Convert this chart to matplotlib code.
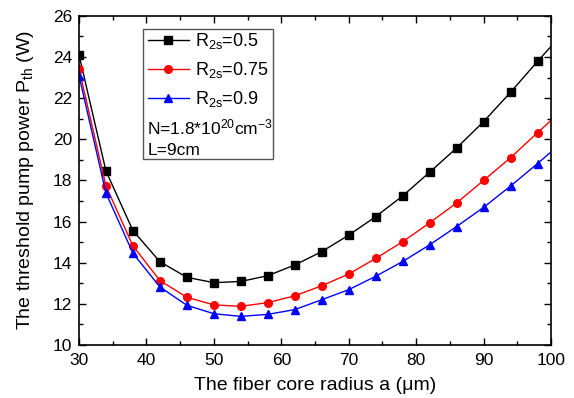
import numpy as np
import matplotlib
matplotlib.use('Agg')
import matplotlib.pyplot as plt
from matplotlib.patches import Rectangle
from matplotlib.ticker import MultipleLocator

plt.rcParams['font.family'] = ['Liberation Sans', 'DejaVu Sans']
plt.rcParams['mathtext.fontset'] = 'custom'
plt.rcParams['mathtext.rm'] = 'Liberation Sans'
plt.rcParams['mathtext.it'] = 'Liberation Sans'

# core radius (um); last point at 100 is the line end without a marker
radius = [30, 34, 38, 42, 46, 50, 54, 58, 62, 66, 70, 74, 78, 82, 86, 90, 94, 98, 100]
p_r05 = [24.11, 18.46, 15.56, 14.05, 13.29, 13.03, 13.09, 13.37, 13.89, 14.54,
         15.34, 16.24, 17.25, 18.40, 19.58, 20.86, 22.29, 23.79, 24.52]
p_r075 = [23.42, 17.73, 14.82, 13.13, 12.32, 11.95, 11.88, 12.06, 12.39, 12.88,
          13.45, 14.21, 15.02, 15.94, 16.91, 18.00, 19.11, 20.32, 20.92]
p_r09 = [23.10, 17.39, 14.46, 12.82, 11.93, 11.52, 11.39, 11.49, 11.72, 12.20,
         12.69, 13.34, 14.06, 14.87, 15.76, 16.69, 17.73, 18.82, 19.39]

series = [
    (p_r05, 'black', 's', 'R$_{2s}$=0.5'),
    (p_r075, 'red', 'o', 'R$_{2s}$=0.75'),
    (p_r09, 'blue', '^', 'R$_{2s}$=0.9'),
]

fig = plt.figure(figsize=(5.74, 3.98), dpi=100)
ax = fig.add_axes([0.1376, 0.1332, 0.8224, 0.8268])

n_mark = len(radius) - 1
for vals, col, mk, lab in series:
    ax.plot(radius, vals, color=col, linewidth=1.0, marker=mk, markersize=5.5,
            markevery=list(range(n_mark)), label=lab)

ax.set_xlim(30, 100)
ax.set_ylim(10, 26)
ax.xaxis.set_major_locator(MultipleLocator(10))
ax.xaxis.set_minor_locator(MultipleLocator(5))
ax.yaxis.set_major_locator(MultipleLocator(2))
ax.yaxis.set_minor_locator(MultipleLocator(1))
ax.tick_params(which='both', direction='in', top=True, right=True, labelsize=12.5)
ax.tick_params(which='major', length=5, width=1)
ax.tick_params(which='minor', length=3, width=1)
ax.tick_params(axis='x', which='major', pad=6)
ax.tick_params(axis='y', which='major', pad=5)
for s in ax.spines.values():
    s.set_linewidth(1.2)

ax.set_xlabel('The fiber core radius a (μm)', fontsize=14, labelpad=6)
ax.set_ylabel('The threshold pump power P$_{th}$ (W)', fontsize=14, labelpad=12)

leg = ax.legend(loc='upper left', bbox_to_anchor=(0.13, 0.975), frameon=False,
                fontsize=13, handlelength=2.3, labelspacing=0.5,
                handletextpad=0.35, borderaxespad=0)
ax.add_patch(Rectangle((0.1356, 0.565), 0.2754, 0.395, transform=ax.transAxes,
                       fill=False, edgecolor='#555555', linewidth=1.0))
ax.text(0.145, 0.66, 'N=1.8*10$^{20}$cm$^{-3}$', transform=ax.transAxes,
        fontsize=12.5, va='center')
ax.text(0.145, 0.59, 'L=9cm', transform=ax.transAxes, fontsize=12.5, va='center')

fig.savefig('out.png', dpi=100, facecolor='white')
